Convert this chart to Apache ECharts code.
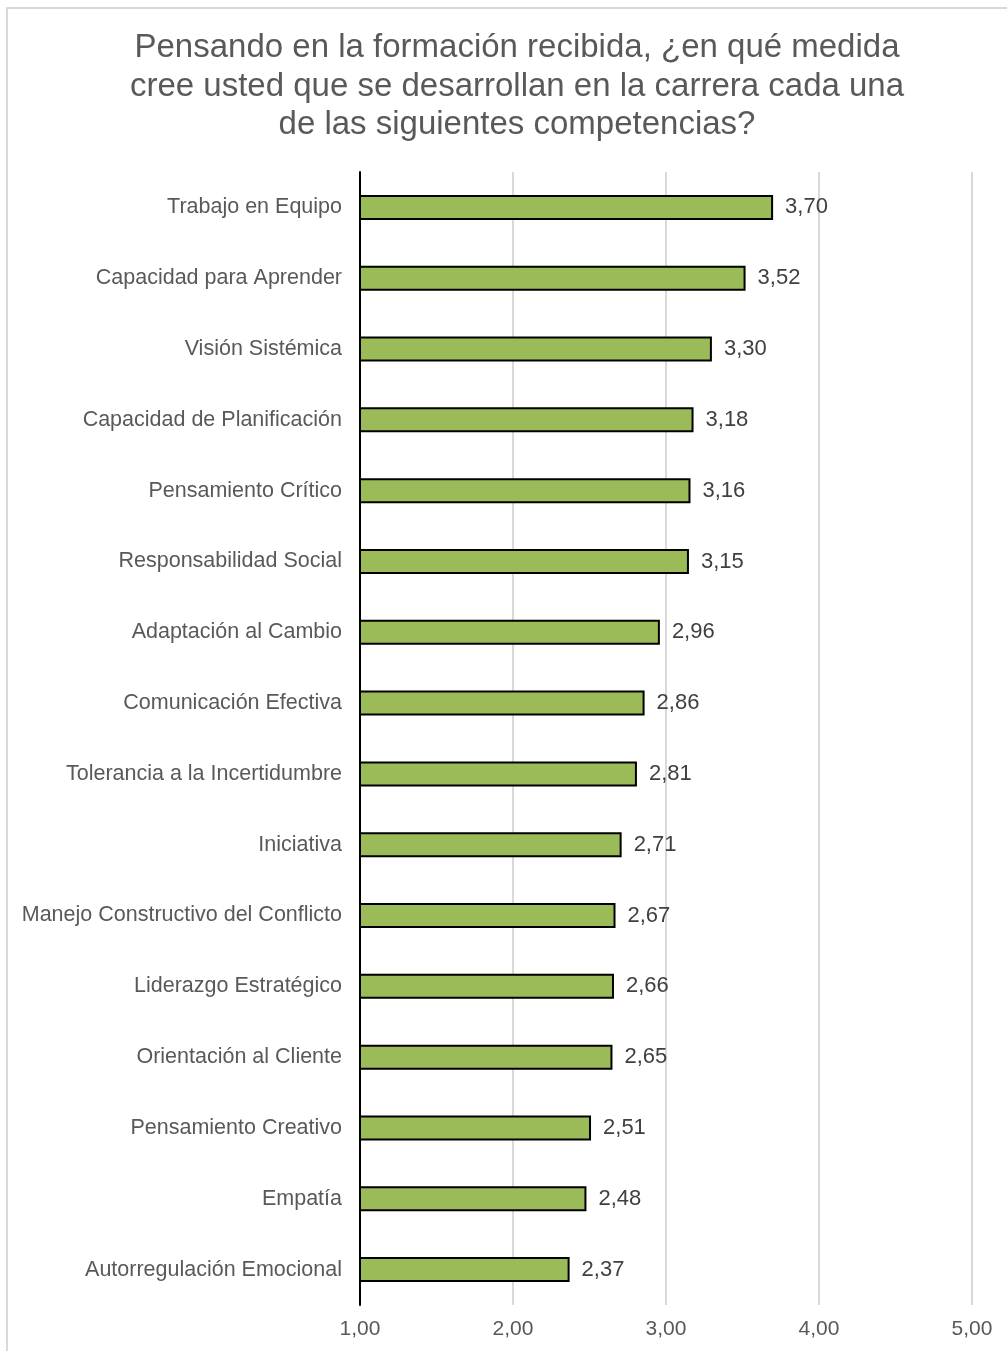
<!DOCTYPE html>
<html><head><meta charset="utf-8">
<script src="https://cdn.jsdelivr.net/npm/echarts@6/dist/echarts.min.js"></script>
<style>html,body{margin:0;padding:0;background:#fff}#c{width:1007px;height:1351px}</style>
</head><body><div id="c"></div>
<script>
const categories = ["Trabajo en Equipo","Capacidad para Aprender","Visión Sistémica","Capacidad de Planificación","Pensamiento Crítico","Responsabilidad Social","Adaptación al Cambio","Comunicación Efectiva","Tolerancia a la Incertidumbre","Iniciativa","Manejo Constructivo del Conflicto","Liderazgo Estratégico","Orientación al Cliente","Pensamiento Creativo","Empatía","Autorregulación Emocional"];
const values = [3.70,3.52,3.30,3.18,3.16,3.15,2.96,2.86,2.81,2.71,2.67,2.66,2.65,2.51,2.48,2.37];
const titleText = "Pensando en la formación recibida, ¿en qué medida\ncree usted que se desarrollan en la carrera cada una\nde las siguientes competencias?";
const fmt = v => v.toFixed(2).replace('.', ',');
const chart = echarts.init(document.getElementById('c'), null, {renderer:'canvas'});
chart.setOption({
  animation:false,
  textStyle:{fontFamily:'Liberation Sans, Arial, sans-serif'},
  graphic:[{type:'rect',shape:{x:7,y:8,width:1020,height:1360},style:{fill:'none',stroke:'#d9d9d9',lineWidth:2},silent:true}],
  title:{text:titleText,left:512,textAlign:'center',top:24,textStyle:{fontSize:33,fontWeight:'normal',color:'#595959',lineHeight:38.5,fontFamily:'Liberation Sans, Arial, sans-serif'}},
  grid:{left:360,right:35,top:172,bottom:46,containLabel:false},
  xAxis:{type:'value',min:1,max:5,interval:1,
    axisLine:{show:false},axisTick:{show:false},
    splitLine:{show:true,lineStyle:{color:'#d9d9d9',width:2}},
    axisLabel:{formatter:v=>fmt(v),fontSize:21,color:'#595959',margin:14}},
  yAxis:{type:'category',inverse:true,data:categories,
    axisLine:{show:true,lineStyle:{color:'#000',width:2}},axisTick:{show:false},
    axisLabel:{fontSize:21.5,color:'#595959',margin:18}},
  series:[{type:'bar',data:values,barWidth:25,
    itemStyle:{color:'#9bbb59',borderColor:'#000',borderWidth:2},
    label:{show:true,position:'right',distance:12,formatter:p=>fmt(p.value),fontSize:22,color:'#404040'}}]
});
</script></body></html>
